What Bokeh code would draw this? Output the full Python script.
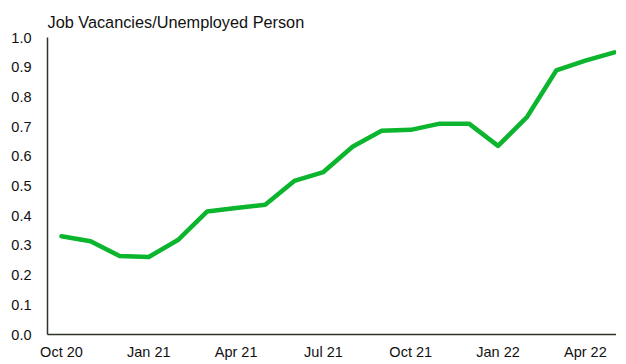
from bokeh.plotting import figure
from bokeh.models import FixedTicker, Range1d, ColumnDataSource
from bokeh.embed import file_html
from bokeh.resources import INLINE

months = ["Oct 20", "Nov 20", "Dec 20", "Jan 21", "Feb 21", "Mar 21", "Apr 21",
          "May 21", "Jun 21", "Jul 21", "Aug 21", "Sep 21", "Oct 21", "Nov 21",
          "Dec 21", "Jan 22", "Feb 22", "Mar 22", "Apr 22", "May 22"]
ratio = [0.331, 0.314, 0.264, 0.261, 0.318, 0.414, 0.426, 0.437, 0.517, 0.547,
         0.632, 0.686, 0.689, 0.71, 0.71, 0.635, 0.733, 0.889, 0.922, 0.95]
tick_idx = [0, 3, 6, 9, 12, 15, 18]
y_ticks = [0.0, 0.1, 0.2, 0.3, 0.4, 0.5, 0.6, 0.7, 0.8, 0.9, 1.0]

FONT = "Liberation Sans"

src = ColumnDataSource(dict(x=list(range(len(months))), y=ratio))

p = figure(width=616, height=362, output_backend="svg", toolbar_location=None,
           x_range=Range1d(-0.48, 19.07), y_range=Range1d(0, 1.0),
           min_border_left=47, min_border_right=0, min_border_top=37,
           min_border_bottom=20)
p.outline_line_color = None
p.grid.visible = False
p.background_fill_color = "white"
p.border_fill_color = "white"

p.title.text = "Job Vacancies/Unemployed Person"
p.title.text_font = FONT
p.title.text_font_size = "16.3px"
p.title.text_font_style = "normal"
p.title.text_color = "#111111"
p.title.align = "left"
p.title.offset = 0
p.title.standoff = 14

p.line("x", "y", source=src, line_color="#0BB52E", line_width=4.5,
       line_join="round", line_cap="round")

for ax in (p.xaxis[0], p.yaxis[0]):
    ax.axis_line_color = "#2E3526"
    ax.axis_line_width = 1.5
    ax.major_tick_line_color = None
    ax.minor_tick_line_color = None
    ax.major_label_text_font = FONT
    ax.major_label_text_font_size = "14.5px"
    ax.major_label_text_color = "#111111"

p.xaxis.ticker = FixedTicker(ticks=tick_idx)
p.xaxis.major_label_overrides = {i: months[i] for i in tick_idx}
p.xaxis.major_label_standoff = 3
p.yaxis.ticker = FixedTicker(ticks=y_ticks)
p.yaxis.major_label_overrides = {v: f"{v:.1f}" for v in y_ticks}
p.yaxis.major_label_standoff = 10

open("out.html", "w").write(file_html(p, INLINE))
